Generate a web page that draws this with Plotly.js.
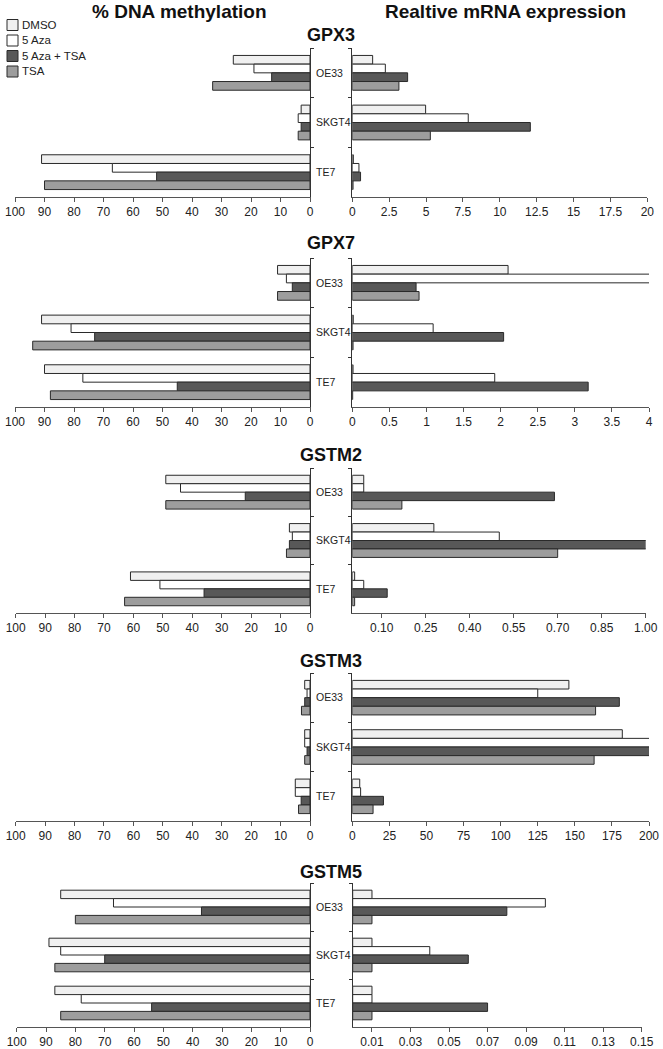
<!DOCTYPE html>
<html>
<head>
<meta charset="utf-8">
<script src="https://cdn.plot.ly/plotly-3.0.1.min.js"></script>
<style>html,body{margin:0;padding:0;background:#fff}#chart{width:663px;height:1049px}</style>
</head>
<body>
<div id="chart"></div>
<script>
// ---- data ----
const cellLines = ['OE33', 'SKGT4', 'TE7'];
const seriesNames = ['DMSO', '5 Aza', '5 Aza + TSA', 'TSA'];
const seriesColors = ['#f0f0f0', '#ffffff', '#585858', '#9d9d9d'];
const genes = ['GPX3', 'GPX7', 'GSTM2', 'GSTM3', 'GSTM5'];

// rows = series (DMSO, 5 Aza, 5 Aza + TSA, TSA); columns = OE33, SKGT4, TE7
const gpx3Methylation  = [[26, 3, 91], [19, 4, 67], [13, 3, 52], [33, 4, 90]];
const gpx3Expression   = [[1.38, 4.97, 0.07], [2.24, 7.86, 0.45], [3.75, 12.07, 0.56], [3.16, 5.29, 0.05]];
const gpx7Methylation  = [[11, 91, 90], [8, 81, 77], [6, 73, 45], [11, 94, 88]];
const gpx7Expression   = [[2.1, 0.013, 0.01], [4.2, 1.09, 1.92], [0.86, 2.04, 3.18], [0.9, 0.01, 0.005]];
const gstm2Methylation = [[49, 7, 61], [44, 6, 51], [22, 7, 36], [49, 8, 63]];
const gstm2Expression  = [[0.039, 0.278, 0.008], [0.039, 0.501, 0.039], [0.689, 1.01, 0.119], [0.169, 0.70, 0.008]];
const gstm3Methylation = [[1.8, 1.8, 5], [1, 1.8, 5], [1.8, 1, 3], [2.9, 1.8, 3.9]];
const gstm3Expression  = [[146, 182, 5], [125, 202, 5.6], [180, 202, 21], [164, 163, 14]];
const gstm5Methylation = [[85, 89, 87], [67, 85, 78], [37, 70, 54], [80, 87, 85]];
const gstm5Expression  = [[0.01, 0.01, 0.01], [0.1, 0.04, 0.01], [0.08, 0.06, 0.07], [0.01, 0.01, 0.01]];

const methylationTicks = [100, 90, 80, 70, 60, 50, 40, 30, 20, 10, 0];

// ---- layout helpers ----
const W = 663, H = 1049;
const FONT = 'Liberation Sans, Arial, Helvetica, sans-serif';
const methylationData = [gpx3Methylation, gpx7Methylation, gstm2Methylation, gstm3Methylation, gstm5Methylation];
const expressionData = [gpx3Expression, gpx7Expression, gstm2Expression, gstm3Expression, gstm5Expression];

const rowPix = [[48, 197], [258, 407], [468, 613], [673, 821], [883, 1027]];
const leftPix = [[15, 310], [15, 310], [15.7, 310], [15.7, 310], [16.7, 310]];
const rightPix = [[352.3, 647.3], [352.3, 649], [352.3, 645.7], [352.3, 649], [352.7, 641.7]];
const geneTitleY = [35, 243, 455, 661, 872];
const exprAxes = [
  {range: [0, 20], tick0: 0, dtick: 2.5},
  {range: [0, 4], tick0: 0, dtick: 0.5},
  {range: [0, 1], tick0: 0.1, dtick: 0.15, tickformat: '.2f'},
  {range: [0, 200], tick0: 0, dtick: 25},
  {range: [0, 0.15], tick0: 0.01, dtick: 0.02, tickformat: '.2f'}
];

function px2x(p) { return p / W; }
function px2y(p) { return 1 - p / H; }

const traces = [];
const layout = {
  width: W, height: H,
  margin: {l: 0, r: 0, t: 0, b: 0},
  paper_bgcolor: '#ffffff', plot_bgcolor: 'rgba(0,0,0,0)',
  font: {family: FONT, size: 12, color: '#222'},
  barmode: 'group', bargap: 0.3, bargroupgap: 0,
  showlegend: false,
  shapes: [],
  annotations: [
    {text: '<b>% DNA methylation</b>', xref: 'paper', yref: 'paper', x: px2x(179), y: 1,
     xanchor: 'center', yanchor: 'top', borderpad: 0, showarrow: false,
     font: {family: FONT, size: 19, color: '#111'}},
    {text: '<b>Realtive mRNA expression</b>', xref: 'paper', yref: 'paper', x: px2x(506), y: 1,
     xanchor: 'center', yanchor: 'top', borderpad: 0, showarrow: false,
     font: {family: FONT, size: 19, color: '#111'}}
  ]
};

// legend (compact, as in the original figure)
const legendLeft = 7, legendTop = 25, legendStep = 15.5, legendBox = 11;
seriesNames.forEach((name, s) => {
  const cy = legendTop + s * legendStep;
  layout.shapes.push({
    type: 'rect', xref: 'paper', yref: 'paper',
    x0: px2x(legendLeft), x1: px2x(legendLeft + legendBox),
    y0: px2y(cy - legendBox / 2), y1: px2y(cy + legendBox / 2),
    fillcolor: seriesColors[s], line: {color: '#2a2a2a', width: 1}
  });
  layout.annotations.push({
    text: name, xref: 'paper', yref: 'paper', x: px2x(legendLeft + legendBox + 2), y: px2y(cy),
    xanchor: 'left', yanchor: 'middle', showarrow: false,
    font: {family: FONT, size: 11.5, color: '#222'}
  });
});

genes.forEach((gene, r) => {
  const kL = 2 * r + 1, kR = 2 * r + 2;
  const sfx = k => (k === 1 ? '' : String(k));
  const yDom = [px2y(rowPix[r][1]), px2y(rowPix[r][0])];

  // left (methylation) panel
  layout['xaxis' + sfx(kL)] = {
    domain: [px2x(leftPix[r][0]), px2x(leftPix[r][1])], anchor: 'y' + sfx(kL),
    range: [100, 0], tickvals: methylationTicks, ticks: 'outside', ticklen: 4,
    tickcolor: '#555', showline: true, linecolor: '#555', linewidth: 1,
    showgrid: false, zeroline: false, fixedrange: true, automargin: false,
    tickfont: {family: FONT, size: 12, color: '#222'}
  };
  layout['yaxis' + sfx(kL)] = {
    domain: yDom, anchor: 'x' + sfx(kL), side: 'right', type: 'category',
    categoryorder: 'array', categoryarray: cellLines, autorange: 'reversed',
    tickson: 'boundaries', ticks: 'outside', ticklen: 3, tickcolor: '#333',
    showline: true, linecolor: '#333', linewidth: 1, showgrid: false, zeroline: false,
    ticklabelstandoff: 3, automargin: false,
    tickfont: {family: FONT, size: 10.5, color: '#222'}, fixedrange: true
  };
  // right (expression) panel
  const ea = exprAxes[r];
  layout['xaxis' + sfx(kR)] = Object.assign({
    domain: [px2x(rightPix[r][0]), px2x(rightPix[r][1])], anchor: 'y' + sfx(kR),
    tickmode: 'linear', ticks: 'outside', ticklen: 4,
    tickcolor: '#555', showline: true, linecolor: '#555', linewidth: 1,
    showgrid: false, zeroline: false, fixedrange: true, automargin: false,
    tickfont: {family: FONT, size: 12, color: '#222'}
  }, ea);
  layout['yaxis' + sfx(kR)] = {
    domain: yDom, anchor: 'x' + sfx(kR), side: 'left', type: 'category',
    categoryorder: 'array', categoryarray: cellLines, autorange: 'reversed',
    tickson: 'boundaries', ticks: 'outside', ticklen: 3, tickcolor: '#333',
    showline: true, linecolor: '#333', linewidth: 1, showgrid: false, zeroline: false,
    showticklabels: false, fixedrange: true, automargin: false
  };

  seriesNames.forEach((name, s) => {
    const common = {
      type: 'bar', orientation: 'h', y: cellLines, name: name, legendgroup: name,
      marker: {color: seriesColors[s], line: {color: '#2a2a2a', width: 1}},
      hoverinfo: 'x+y+name', showlegend: false
    };
    traces.push(Object.assign({}, common, {
      x: methylationData[r][s], xaxis: 'x' + sfx(kL), yaxis: 'y' + sfx(kL)
    }));
    traces.push(Object.assign({}, common, {
      x: expressionData[r][s], xaxis: 'x' + sfx(kR), yaxis: 'y' + sfx(kR)
    }));
  });

  layout.annotations.push({
    text: '<b>' + gene + '</b>', xref: 'paper', yref: 'paper', x: px2x(331), y: px2y(geneTitleY[r]),
    xanchor: 'center', yanchor: 'middle', showarrow: false, font: {family: FONT, size: 18, color: '#111'}
  });
});

Plotly.newPlot('chart', traces, layout, {displayModeBar: false, staticPlot: true});
</script>
</body>
</html>
